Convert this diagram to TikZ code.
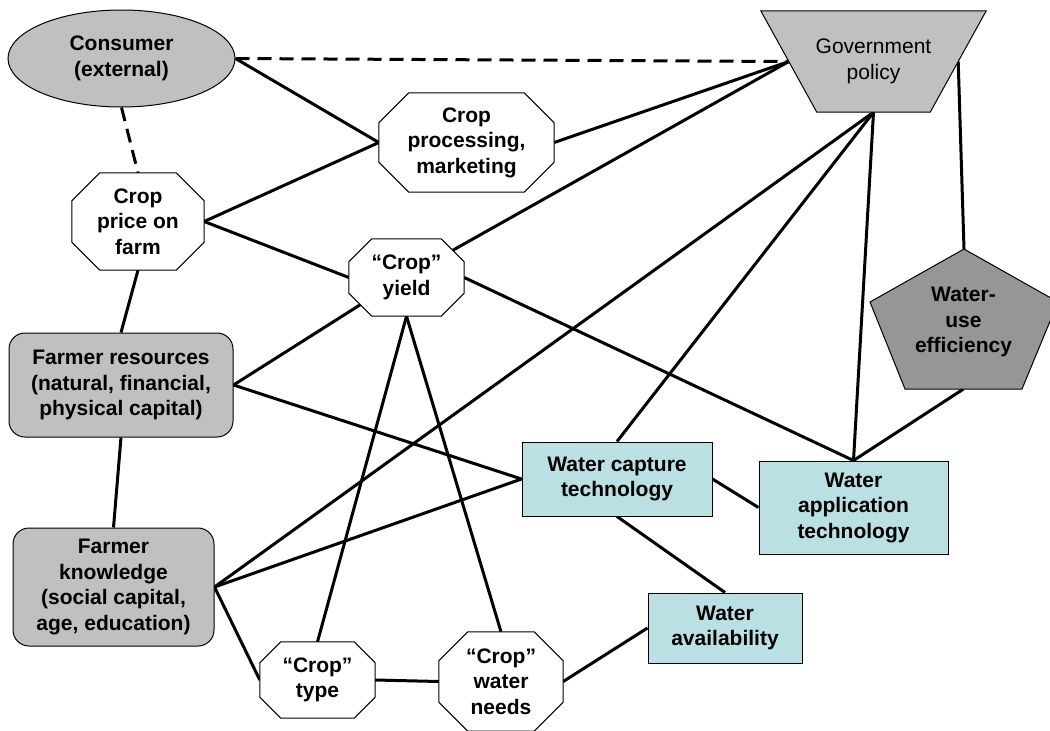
\documentclass[tikz,border=0pt]{standalone}
\usepackage{fontspec}
\setmainfont{Liberation Sans}
\usetikzlibrary{shapes.geometric}
\pgfdeclarelayer{bg}
\pgfdeclarelayer{edges}
\pgfdeclarelayer{shapes}
\pgfsetlayers{bg,edges,shapes,main}
\definecolor{grayfill}{HTML}{C0C0C0}
\definecolor{darkfill}{HTML}{969696}
\definecolor{bluefill}{HTML}{BBE0E3}
\newcommand\octpoly[2]{%
  \begin{pgfonlayer}{shapes}
  \draw[shapeline,fill=white] ([xshift=#2]#1.north west) -- ([xshift=-#2]#1.north east)
    -- ([yshift=-#2]#1.north east) -- ([yshift=#2]#1.south east)
    -- ([xshift=-#2]#1.south east) -- ([xshift=#2]#1.south west)
    -- ([yshift=#2]#1.south west) -- ([yshift=-#2]#1.north west) -- cycle;
  \end{pgfonlayer}}
\tikzset{
  txt/.style={font=\bfseries\fontsize{21}{25.5}\selectfont, align=center, inner sep=0pt},
  shapeline/.style={draw=black, line width=1pt},
  octbox/.style={txt, rectangle, minimum width=#1},
  roundbox/.style={txt, shapeline, fill=grayfill, rounded corners=16pt},
  bluebox/.style={txt, shapeline, fill=bluefill},
  conn/.style={line width=3pt, black},
  dconn/.style={line width=3pt, black, dash pattern=on 14pt off 8pt},
}
\begin{document}
\begin{tikzpicture}[x=1pt,y=-1pt]
\path[use as bounding box, clip] (0,0) rectangle (1050,731);
\begin{pgfonlayer}{bg}
\fill[white] (0,0) rectangle (1050,731);
\end{pgfonlayer}

% Consumer
\node[txt, ellipse, shapeline, fill=grayfill, minimum width=227pt, minimum height=97pt] (consumer) at (121.5,58.5) {Consumer\\(external)};

% Government policy (trapezoid)
\node[txt, font=\fontsize{21}{25.5}\selectfont, minimum width=225pt, minimum height=101pt] (gov) at (873.5,61.5) {Government\\policy};
\begin{pgfonlayer}{shapes}
\draw[shapeline, fill=grayfill] (gov.north west) -- (gov.north east) -- ([xshift=-56pt]gov.south east) -- ([xshift=56pt]gov.south west) -- cycle;
\end{pgfonlayer}
\coordinate (govL) at ([xshift=28pt]gov.west);
\coordinate (govR) at ([xshift=-28pt]gov.east);
\coordinate (govB) at (gov.south);

% Octagons
\node[octbox=175pt, minimum height=99pt] (processing) at (466.5,142.5) {Crop\\processing,\\marketing};
\octpoly{processing}{30pt}
\node[octbox=132pt, minimum height=97pt] (price) at (138,221.5) {Crop\\price on\\farm};
\octpoly{price}{28pt}
\node[octbox=115pt, minimum height=77pt] (yield) at (406.5,277.5) {“Crop”\\yield};
\octpoly{yield}{23pt}
\node[octbox=115pt, minimum height=76pt] (type) at (317.5,680) {“Crop”\\type};
\octpoly{type}{21pt}
\node[octbox=124pt, minimum height=99pt] (needs) at (501,681.5) {“Crop”\\water\\needs};
\octpoly{needs}{29pt}
\coordinate (yieldNE) at ([xshift=-11.5pt,yshift=-11.5pt]yield.north east);
\coordinate (yieldSW) at ([xshift=11.5pt,yshift=11.5pt]yield.south west);

% Farmer boxes
\node[roundbox, minimum width=224pt, minimum height=104pt] (resources) at (121,385) {Farmer resources\\(natural, financial,\\physical capital)};
\node[roundbox, minimum width=201pt, minimum height=118pt] (knowledge) at (113.5,587) {Farmer\\knowledge\\(social capital,\\age, education)};

% Water boxes
\node[bluebox, minimum width=190pt, minimum height=74pt] (capture) at (617,479) {Water capture\\technology};
\node[bluebox, minimum width=189pt, minimum height=93pt] (application) at (853.5,507.5) {Water\\application\\technology};
\node[bluebox, minimum width=154pt, minimum height=70pt] (availability) at (725,628) {Water\\availability};

% Water-use efficiency (pentagon)
\node[txt] (wue) at (963.5,322) {Water-\\use\\efficiency};
\begin{pgfonlayer}{shapes}
\draw[shapeline, fill=darkfill] (964,249) -- (1058,302) -- (1022,389) -- (905,389) -- (870,302) -- cycle;
\end{pgfonlayer}
\coordinate (wueT) at (964,249);
\coordinate (wueB) at (963.5,389);

% Connectors
\begin{pgfonlayer}{edges}
\draw[dconn] (consumer.east) -- (govL);
\draw[dconn] (consumer.south) -- (price.north);
\draw[conn] (consumer.east) -- (processing.west);
\draw[conn] (price.east) -- (processing.west);
\draw[conn] (price.east) -- (yield.west);
\draw[conn] (processing.east) -- (govL);
\draw[conn] (yieldNE) -- (govL);
\draw[conn] (resources.north) -- (price.south);
\draw[conn] (resources.south) -- (knowledge.north);
\draw[conn] (resources.east) -- (yieldSW);
\draw[conn] (resources.east) -- (capture.west);
\draw[conn] (knowledge.east) -- (govB);
\draw[conn] (knowledge.east) -- (capture.west);
\draw[conn] (knowledge.east) -- (type.west);
\draw[conn] (yield.south) -- (type.north);
\draw[conn] (yield.south) -- (needs.north);
\draw[conn] (yield.east) -- (application.north);
\draw[conn] (type.east) -- (needs.west);
\draw[conn] (needs.east) -- (availability.west);
\draw[conn] (capture.south) -- (availability.north);
\draw[conn] (capture.east) -- (application.west);
\draw[conn] (govB) -- (capture.north);
\draw[conn] (govB) -- (application.north);
\draw[conn] (govR) -- (wueT);
\draw[conn] (wueB) -- (application.north);
\end{pgfonlayer}
\end{tikzpicture}
\end{document}
